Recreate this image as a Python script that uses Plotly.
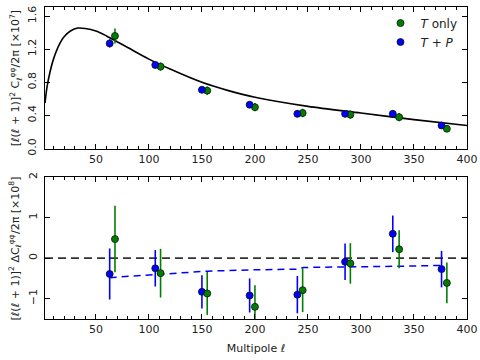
import plotly.graph_objects as go

# multipole bins (T+P slightly left, T only slightly right)
ell_tp = [63, 106, 150, 195, 240, 285, 330, 376]
ell_t = [68, 111, 155, 200, 245, 290, 336, 381]

# top panel: lensing power spectrum [x1e7]
cl_tp = [1.27, 1.01, 0.71, 0.53, 0.42, 0.42, 0.42, 0.28]
cl_tp_err = [0.05, 0.04, 0.04, 0.04, 0.04, 0.04, 0.04, 0.04]
cl_t = [1.36, 0.99, 0.70, 0.50, 0.43, 0.41, 0.38, 0.24]
cl_t_err = [0.09, 0.05, 0.05, 0.05, 0.05, 0.05, 0.05, 0.04]

# theory curve
ell_th = [2, 4, 7, 10, 16, 20, 26, 33, 40, 50, 60, 70, 80, 100, 120, 150, 175, 200, 250, 300, 350, 400]
cl_th = [0.55, 0.75, 0.94, 1.08, 1.27, 1.35, 1.42, 1.455, 1.45, 1.42, 1.36, 1.29, 1.22, 1.08, 0.96, 0.80,
         0.70, 0.62, 0.51, 0.43, 0.35, 0.28]

# bottom panel: residuals [x1e8]
d_tp = [-0.39, -0.25, -0.83, -0.92, -0.90, -0.09, 0.60, -0.27]
d_tp_err = [0.63, 0.45, 0.41, 0.42, 0.46, 0.45, 0.45, 0.45]
d_t = [0.47, -0.37, -0.87, -1.20, -0.79, -0.13, 0.22, -0.61]
d_t_err = [0.82, 0.60, 0.53, 0.53, 0.54, 0.50, 0.47, 0.50]

# binned T+P model offset (blue dashed)
ell_mod = [63, 106, 130, 155, 195, 240, 246, 290, 335, 376]
d_mod = [-0.48, -0.40, -0.35, -0.32, -0.29, -0.27, -0.23, -0.22, -0.20, -0.18]

ticks_x = [50, 100, 150, 200, 250, 300, 350, 400]

blue = "#0000ff"
green = "#007f00"
font = dict(family="DejaVu Sans", size=11, color="#222")

fig = go.Figure()

fig.add_trace(go.Scatter(x=ell_th, y=cl_th, mode="lines", line=dict(color="black", width=1.6, shape="spline", smoothing=0.8),
                         showlegend=False, xaxis="x", yaxis="y"))
fig.add_trace(go.Scatter(x=ell_t, y=cl_t, mode="markers", name="<i>T</i> only",
                         marker=dict(color=green, size=7, line=dict(color="#111", width=0.8)),
                         error_y=dict(array=cl_t_err, color=green, thickness=1.6, width=0),
                         xaxis="x", yaxis="y"))
fig.add_trace(go.Scatter(x=ell_tp, y=cl_tp, mode="markers", name="<i>T</i> + <i>P</i>",
                         marker=dict(color=blue, size=7, line=dict(color="#111", width=0.8)),
                         error_y=dict(array=cl_tp_err, color=blue, thickness=1.6, width=0),
                         xaxis="x", yaxis="y"))

# bottom panel
fig.add_trace(go.Scatter(x=[2, 400], y=[0, 0], mode="lines", line=dict(color="#333", width=1.8, dash="8px,5px"),
                         showlegend=False, xaxis="x2", yaxis="y2"))
fig.add_trace(go.Scatter(x=ell_mod, y=d_mod, mode="lines", line=dict(color=blue, width=1.5, dash="7px,5px"),
                         showlegend=False, xaxis="x2", yaxis="y2"))
fig.add_trace(go.Scatter(x=ell_tp, y=d_tp, mode="markers", showlegend=False,
                         marker=dict(color=blue, size=7, line=dict(color="#111", width=0.8)),
                         error_y=dict(array=d_tp_err, color=blue, thickness=1.6, width=0),
                         xaxis="x2", yaxis="y2"))
fig.add_trace(go.Scatter(x=ell_t, y=d_t, mode="markers", showlegend=False,
                         marker=dict(color=green, size=7, line=dict(color="#111", width=0.8)),
                         error_y=dict(array=d_t_err, color=green, thickness=1.6, width=0),
                         xaxis="x2", yaxis="y2"))

axis_common = dict(showline=True, linecolor="black", linewidth=1.2, mirror="allticks", ticks="inside",
                   ticklen=5, tickcolor="black", showgrid=False, zeroline=False, tickfont=font,
                   ticklabeloverflow="allow")
xminor = dict(dtick=10, ticks="inside", ticklen=2.5, tickcolor="black")

title_font = dict(family="DejaVu Sans", size=11, color="#222")

fig.update_layout(
    width=480, height=360,
    margin=dict(l=45, r=11, t=2, b=41),
    paper_bgcolor="white", plot_bgcolor="white",
    font=font,
    xaxis=dict(axis_common, range=[2, 400], tickvals=ticks_x, minor=xminor, anchor="y"),
    yaxis=dict(axis_common, domain=[0.546, 1], range=[0, 1.709], tickvals=[0, 0.4, 0.8, 1.2, 1.6],
               tickformat=".1f", tickangle=-90, anchor="x", ticklabelstandoff=4),
    xaxis2=dict(axis_common, range=[2, 400], tickvals=ticks_x, minor=xminor, anchor="y2",
                title=dict(text="Multipole ℓ", font=title_font, standoff=9)),
    yaxis2=dict(axis_common, domain=[0, 0.455], range=[-1.5, 2], tickvals=[-1, 0, 1, 2], tickangle=-90,
                anchor="x2", ticklabelstandoff=3),
    legend=dict(x=0.795, y=0.995, xanchor="left", yanchor="top", bgcolor="rgba(0,0,0,0)",
                font=dict(family="DejaVu Sans", size=12, color="#222"), itemwidth=30, tracegroupgap=0),
)

# y-axis titles as rotated annotations placed left of the tick labels
fig.add_annotation(text="[ℓ(ℓ + 1)]<sup>2</sup> C<sub>ℓ</sub><sup>φφ</sup>/2π [×10<sup>7</sup>]",
                   xref="paper", yref="paper", x=-0.07, y=0.773, textangle=-90, showarrow=False,
                   xanchor="center", yanchor="middle", font=title_font)
fig.add_annotation(text="[ℓ(ℓ + 1)]<sup>2</sup> ΔC<sub>ℓ</sub><sup>φφ</sup>/2π [×10<sup>8</sup>]",
                   xref="paper", yref="paper", x=-0.07, y=0.2275, textangle=-90, showarrow=False,
                   xanchor="center", yanchor="middle", font=title_font)

# drop the default page margin so the 480x360 figure fills the window exactly
fig.write_html("out.html", post_script="document.body.style.margin='0';",
               config={"displayModeBar": False})
